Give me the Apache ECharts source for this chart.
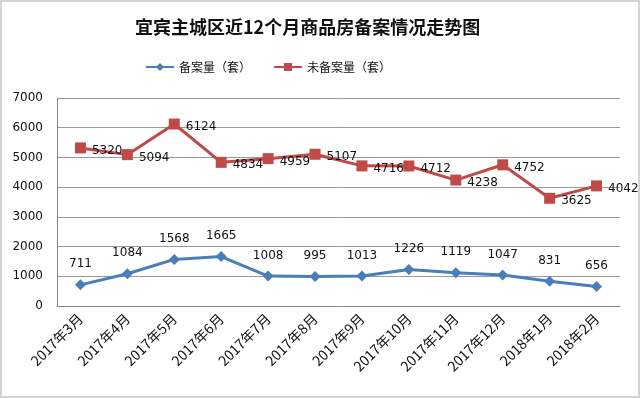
<!DOCTYPE html>
<html>
<head>
<meta charset="utf-8">
<script src="https://cdn.jsdelivr.net/npm/echarts@6/dist/echarts.min.js"></script>
<style>
  html, body { margin: 0; padding: 0; background: #fff; }
  #main { width: 640px; height: 398px; box-sizing: border-box; border: 2px solid #d4d4d4; }
</style>
</head>
<body>
<div id="main"></div>
<script>
// 数据
var months = ['2017年3月', '2017年4月', '2017年5月', '2017年6月', '2017年7月', '2017年8月',
  '2017年9月', '2017年10月', '2017年11月', '2017年12月', '2018年1月', '2018年2月'];
var filed = [711, 1084, 1568, 1665, 1008, 995, 1013, 1226, 1119, 1047, 831, 656];
var unfiled = [5320, 5094, 6124, 4834, 4959, 5107, 4716, 4712, 4238, 4752, 3625, 4042];

;(function(){

  var myChart = echarts.init(document.getElementById('main'));

  var numFont = 'DejaVu Sans';

  var option = {
    animation: false,
    title: {
      text: '宜宾主城区近12个月商品房备案情况走势图',
      left: 128,
      top: 11,
      textStyle: {
        fontFamily: 'Noto Sans CJK SC',
        fontWeight: 'bold',
        fontSize: 18,
        color: '#111'
      }
    },
    legend: {
      top: 54,
      left: 138,
      itemGap: 22,
      itemWidth: 28,
      itemHeight: 10,
      textStyle: { fontFamily: 'Noto Sans CJK SC', fontSize: 12, color: '#111' },
      data: ['备案量（套）', '未备案量（套）']
    },
    grid: { left: 55, right: 18, top: 96, bottom: 90 },
    xAxis: {
      type: 'category',
      data: months,
      boundaryGap: true,
      axisLine: { lineStyle: { color: '#888', width: 1 } },
      axisTick: { show: false },
      axisLabel: {
        rotate: 45,
        margin: 10,
        fontFamily: 'Noto Sans CJK SC',
        fontSize: 14,
        color: '#111'
      }
    },
    yAxis: {
      type: 'value',
      min: 0,
      max: 7000,
      interval: 1000,
      axisLine: { show: true, lineStyle: { color: '#888', width: 1 } },
      axisTick: { show: false },
      splitLine: { lineStyle: { color: '#999', width: 1 } },
      axisLabel: {
        margin: 14,
        fontFamily: numFont,
        fontSize: 12,
        color: '#111',
        formatter: function (v) { return String(v); }
      }
    },
    series: [
      {
        name: '备案量（套）',
        type: 'line',
        data: filed,
        symbol: 'diamond',
        symbolSize: 11,
        lineStyle: { color: '#4a7ebb', width: 3 },
        itemStyle: { color: '#4a7ebb' },
        label: {
          show: true,
          position: 'top',
          distance: 9,
          fontFamily: numFont,
          fontSize: 12,
          color: '#111'
        }
      },
      {
        name: '未备案量（套）',
        type: 'line',
        data: unfiled,
        symbol: 'rect',
        symbolSize: 11,
        lineStyle: { color: '#be4b48', width: 3 },
        itemStyle: { color: '#be4b48' },
        label: {
          show: true,
          position: 'right',
          distance: 6,
          offset: [0, 3],
          fontFamily: numFont,
          fontSize: 12,
          color: '#111'
        }
      }
    ]
  };

  myChart.setOption(option);

})();
</script>
</body>
</html>
